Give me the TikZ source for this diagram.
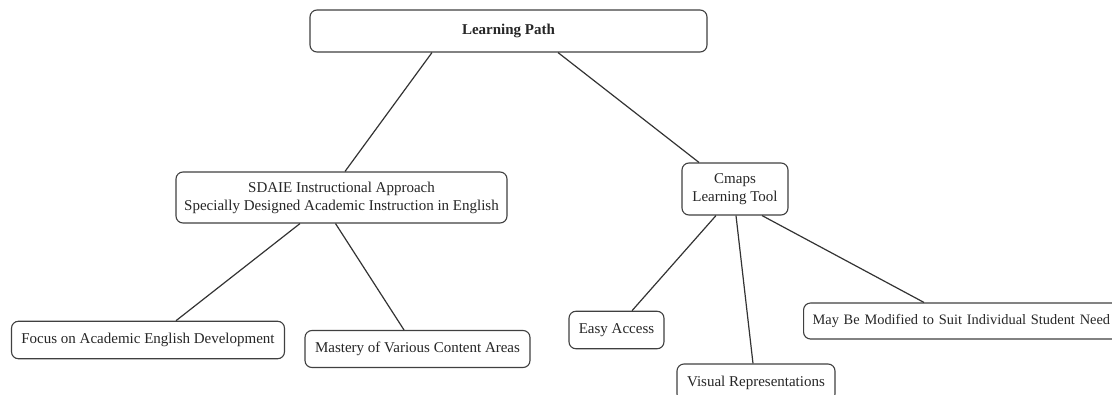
\documentclass[tikz,border=0pt]{standalone}
\usepackage{fontspec}
\setmainfont{Liberation Serif}
\begin{document}
\begin{tikzpicture}[x=1pt,y=-1pt,
  box/.style={draw=black!75, line width=1.1pt, rounded corners=7pt, fill=white,
    text=black!85, align=center, inner sep=0pt,
    font=\fontsize{15}{18}\selectfont},
  link/.style={draw=black!80, line width=1.2pt}]
\useasboundingbox (0,0) rectangle (1112,394);
\node[box, minimum width=397, minimum height=42, font=\fontsize{15}{18}\selectfont\bfseries] (lp) at (508.5,31) {Learning Path};
\node[box, minimum width=331, minimum height=51] (sd) at (341.5,197.5) {SDAIE Instructional Approach\\Specially Designed Academic Instruction in English};
\node[box, minimum width=106, minimum height=52, font=\fontsize{15}{17.5}\selectfont] (cm) at (735,189) {Cmaps\\Learning Tool};
\node[box, minimum width=273, minimum height=37.5] (fo) at (148,340) {Focus on Academic English Development};
\node[box, minimum width=225, minimum height=37] (ma) at (417.5,349) {Mastery of Various Content Areas};
\node[box, minimum width=95, minimum height=37.5] (ea) at (616.5,330) {Easy Access};
\node[box, minimum width=158, minimum height=37] (vi) at (756,382.5) {Visual Representations};
\node[box, anchor=west, minimum width=340, minimum height=36, inner xsep=9pt, text width=322pt, align=left, font=\fontsize{14.4}{17}\selectfont] (mb) at (803,321) {May Be Modified to Suit Individual Student Need};
\draw[link] ([xshift=-76.5]lp.south) -- ([xshift=3.5]sd.north);
\draw[link] ([xshift=49.5]lp.south) -- ([xshift=-36]cm.north);
\draw[link] ([xshift=-41.5]sd.south) -- ([xshift=28]fo.north);
\draw[link] ([xshift=-6]sd.south) -- ([xshift=-13.5]ma.north);
\draw[link] ([xshift=-19]cm.south) -- ([xshift=15.5]ea.north);
\draw[link] ([xshift=1]cm.south) -- ([xshift=-3]vi.north);
\draw[link] ([xshift=27]cm.south) -- ([xshift=121]mb.north west);
\end{tikzpicture}
\end{document}
